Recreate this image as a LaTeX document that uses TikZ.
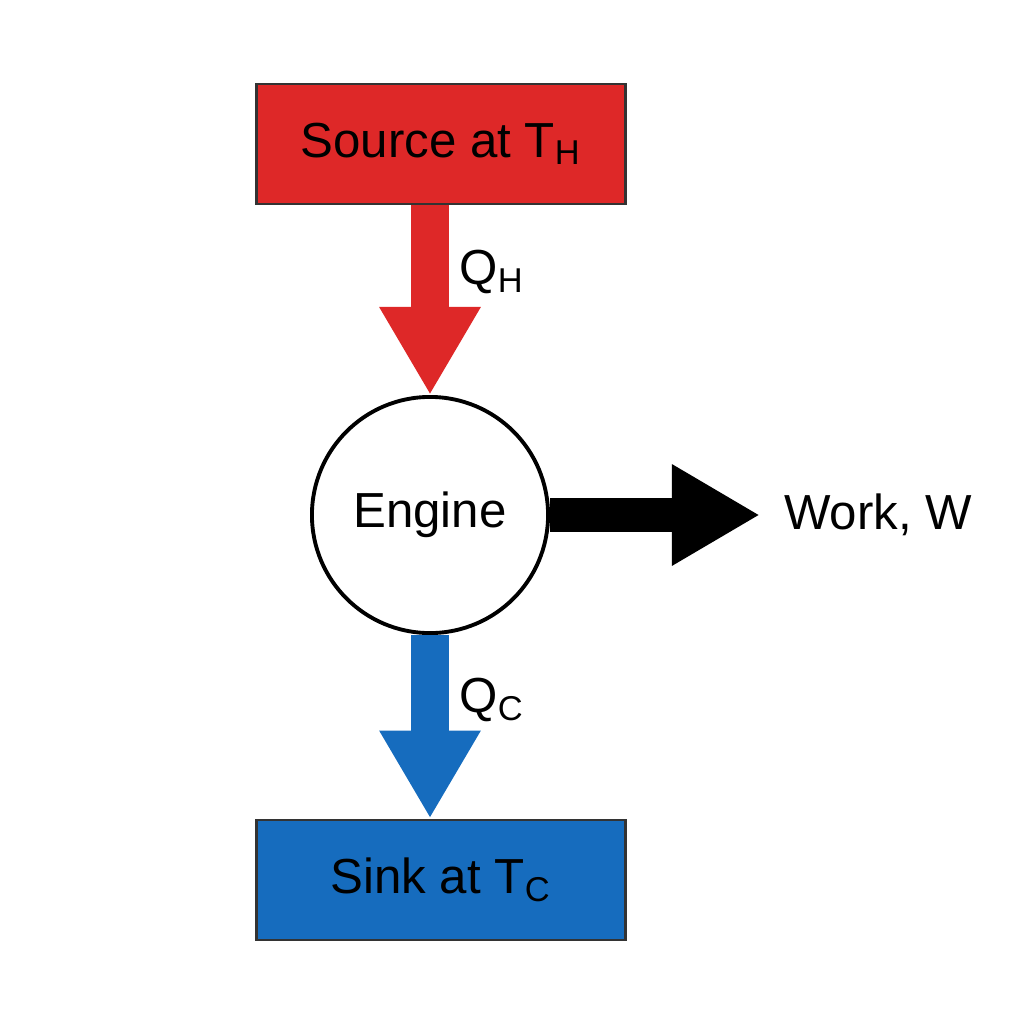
\documentclass[tikz,border=0pt]{standalone}
\usepackage{fontspec}
\setmainfont{Liberation Sans}
\usetikzlibrary{arrows.meta}
\definecolor{hotred}{RGB}{222,40,40}
\definecolor{coldblue}{RGB}{22,108,190}
\begin{document}
\begin{tikzpicture}[x=0.01cm,y=-0.01cm,font=\fontsize{14}{16}\selectfont,
  reservoir/.style={draw=black!80,line width=0.8pt,minimum width=3.69cm,minimum height=1.2cm},
  flow/.style={line width=0.37cm,-{Triangle[width=0.95cm,length=0.88cm]}}]
        \useasboundingbox (0,0) rectangle (1024,1024);
        \node[reservoir,fill=hotred] (src) at (441,144) {Source at T\textsubscript{H}};
        \node[reservoir,fill=coldblue] (snk) at (441,880) {Sink at T\textsubscript{C}};
        \node[draw,circle,line width=1.1pt,minimum size=2.36cm,fill=white] (eng) at (430,515) {Engine};
        \coordinate (out) at (760,515);
        \node (wrk) at (878,515) {Work, W};
        % heat flows
        \draw[flow,hotred] (eng.north|-src.south) -- (eng.north);
        \draw[flow,coldblue] (eng.south) -- (eng.south|-snk.north);
        \draw[flow,black,line width=0.33cm] (eng.east) -- (out);
        \node (qh) at (492,272) {Q\textsubscript{H}};
        \node (qc) at (492,700) {Q\textsubscript{C}};
\end{tikzpicture}
\end{document}
